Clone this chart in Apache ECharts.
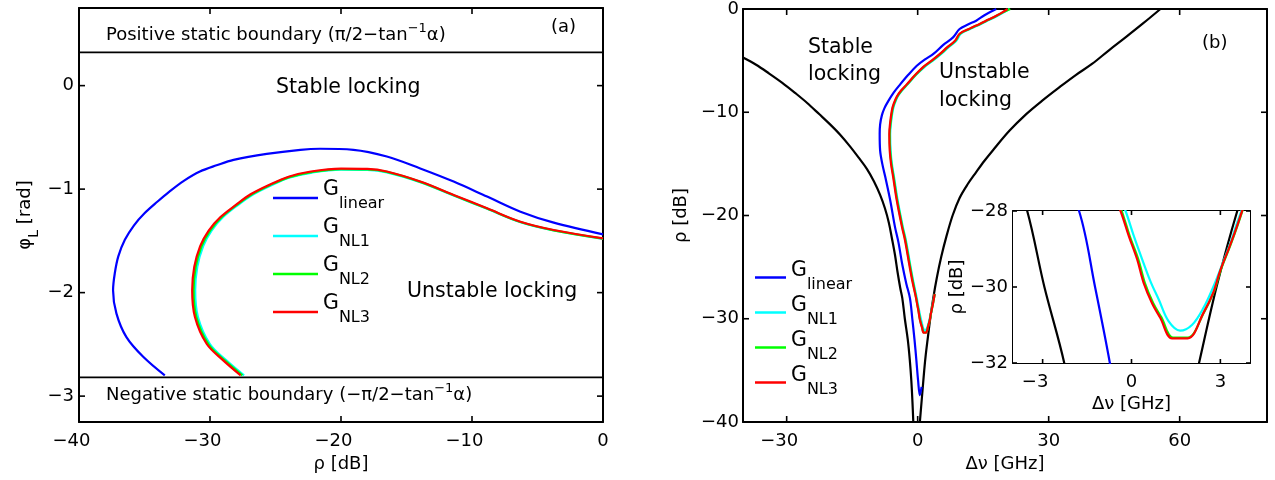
<!DOCTYPE html>
<html>
<head>
<meta charset="utf-8">
<script src="https://cdn.jsdelivr.net/npm/echarts@6/dist/echarts.min.js"></script>
<style>
  html, body { margin: 0; padding: 0; background: #fff; }
  #main { width: 1275px; height: 480px; }
</style>
</head>
<body>
<div id="main"></div>
<script>
var FONT = '"DejaVu Sans", sans-serif';

// ---- panel (a): phi_L vs rho, alpha = 3 ----
var posBound = 0.3218;     // pi/2 - atan(3)
var negBound = -2.8198;    // -pi/2 - atan(3)
var rhoEnds = [-40, 0];
var ticksAX = [-40, -30, -20, -10, 0];
var ticksAY = [0, -1, -2, -3];

var aLinear = [[-33.45,-2.80],[-35.1,-2.62],[-36.38,-2.43],[-37.14,-2.203],[-37.4,-1.977],[-37.27,-1.815],
  [-37.0,-1.65],[-36.5,-1.49],[-35.8,-1.35],[-35.0,-1.234],[-34.0,-1.12],[-33.1,-1.024],[-32.0,-0.92],
  [-30.77,-0.83],[-29.5,-0.77],[-28.2,-0.717],[-25.67,-0.659],[-23.1,-0.62],[-21.6,-0.61],[-19.05,-0.62],
  [-16.5,-0.685],[-13.95,-0.80],[-11.4,-0.927],[-8.85,-1.072],[-6.3,-1.218],[-3.76,-1.324],[0,-1.437]];
var aNL1 = [[-27.4,-2.80],[-28.75,-2.655],[-30.02,-2.494],[-30.92,-2.235],[-31.13,-1.977],[-30.97,-1.75],
  [-30.52,-1.55],[-29.88,-1.40],[-29.0,-1.27],[-27.85,-1.152],[-26.75,-1.055],[-25.35,-0.965],[-23.9,-0.888],
  [-22.2,-0.84],[-20.0,-0.812],[-18.0,-0.815],[-16.5,-0.838],[-13.95,-0.933],[-11.4,-1.062],[-8.85,-1.19],
  [-6.3,-1.32],[-3.76,-1.40],[0,-1.48]];
var aNL2 = [[-27.53,-2.80],[-28.87,-2.655],[-30.14,-2.494],[-31.04,-2.235],[-31.25,-1.977],[-31.09,-1.75],
  [-30.64,-1.55],[-29.99,-1.40],[-29.1,-1.27],[-27.93,-1.15],[-26.83,-1.052],[-25.43,-0.962],[-23.95,-0.884],
  [-22.25,-0.835],[-20.0,-0.806],[-18.0,-0.81],[-16.5,-0.834],[-13.95,-0.93],[-11.4,-1.059],[-8.85,-1.188],
  [-6.3,-1.318],[-3.76,-1.398],[0,-1.478]];
var aNL3 = [[-27.66,-2.80],[-28.99,-2.655],[-30.26,-2.494],[-31.15,-2.235],[-31.36,-1.977],[-31.2,-1.75],
  [-30.75,-1.55],[-30.1,-1.40],[-29.2,-1.27],[-28.0,-1.15],[-26.9,-1.05],[-25.5,-0.96],[-24.0,-0.88],
  [-22.3,-0.83],[-20.0,-0.802],[-18.0,-0.805],[-16.5,-0.83],[-13.95,-0.927],[-11.4,-1.056],[-8.85,-1.185],
  [-6.3,-1.315],[-3.76,-1.395],[0,-1.476]];

// ---- panel (b): rho vs detuning ----
var ticksBX = [-30, 0, 30, 60];
var ticksBY = [0, -10, -20, -30, -40];
var ticksIX = [-3, 0, 3];
var ticksIY = [-28, -30, -32];

var bLeftEdge = [[-40,-4.7],[-37,-5.4],[-34,-6.25],[-31,-7.15],[-28,-8.15],[-25.3,-9.1],[-22.5,-10.2],
  [-20,-11.2],[-17.7,-12.2],[-15.5,-13.3],[-13.5,-14.4],[-11.6,-15.5],[-10,-16.7],[-8.6,-18.0],[-7.5,-19.3],
  [-6.6,-20.7],[-5.9,-22.2],[-5.2,-23.8],[-4.6,-25.5],[-4.0,-27.0],[-3.52,-28],[-2.94,-30],[-2.27,-32],
  [-1.8,-34],[-1.45,-36],[-1.2,-38],[-1.0,-40]];
var bRightEdge = [[0.5,-40],[0.8,-38.5],[1.1,-37],[1.5,-35],[1.85,-33.5],[2.28,-32],[2.87,-30],[3.57,-28],
  [4.4,-26],[5.4,-24],[6.6,-22],[8.0,-20],[9.6,-18.3],[11.4,-17.0],[13.4,-15.8],[15.3,-14.7],[17.2,-13.7],
  [21.0,-11.8],[24.8,-10.2],[28.6,-8.85],[32.4,-7.6],[36.2,-6.4],[40.0,-5.3],[43.8,-4.0],[47.6,-2.75],
  [51.6,-1.4],[55.6,0]];
var bLinear = [[18.0,0],[17.2,-0.16],[15.3,-0.6],[13.4,-1.13],[11.5,-1.5],[9.6,-1.94],[8.1,-2.75],[5.8,-3.5],
  [3.6,-4.35],[1.6,-4.9],[-0.2,-5.5],[-2.2,-6.4],[-4.0,-7.3],[-5.5,-8.1],[-6.7,-8.9],[-7.6,-9.6],[-8.2,-10.3],
  [-8.6,-11.2],[-8.7,-12.1],[-8.6,-13.7],[-8.1,-15.0],[-7.4,-16.3],[-6.3,-18.5],[-5.2,-21.1],[-4.4,-22.6],
  [-3.5,-24.8],[-2.6,-26.6],[-1.77,-28],[-1.23,-30],[-0.73,-32],[-0.3,-34],[0.1,-36],[0.5,-37.4],[0.9,-36.6]];
var bNL1 = [[21.0,0],[19.6,-0.35],[18.3,-0.65],[16.4,-1.05],[14.5,-1.45],[12.2,-1.9],[9.9,-2.4],[8.8,-3.1],
  [7.1,-3.7],[5.4,-4.35],[3.5,-5.0],[1.6,-5.6],[-0.4,-6.4],[-2.3,-7.3],[-3.6,-7.9],[-4.6,-8.5],[-5.3,-9.2],
  [-5.7,-9.8],[-6.1,-11.0],[-6.3,-12.1],[-6.2,-13.7],[-5.9,-15.0],[-5.4,-16.3],[-4.6,-18.5],[-3.4,-21.1],
  [-2.7,-22.4],[-1.7,-24.8],[-1.0,-26.4],[-0.2,-28],[0.08,-28.66],[0.36,-29.27],[0.64,-29.85],[0.92,-30.33],
  [1.25,-30.9],[1.64,-31.15],[2.04,-31.0],[2.43,-30.55],[2.76,-30.0],[3.04,-29.45],[3.38,-28.75],[3.57,-28.3],[3.9,-27.6]];
var bNL2 = [[21.2,0],[19.4,-0.35],[18.1,-0.65],[16.2,-1.05],[14.3,-1.45],[12.0,-1.9],[9.7,-2.4],[8.6,-3.1],
  [6.9,-3.7],[5.2,-4.35],[3.3,-5.0],[1.4,-5.6],[-0.5,-6.4],[-2.4,-7.3],[-3.7,-7.9],[-4.7,-8.5],[-5.4,-9.2],
  [-5.8,-9.8],[-6.2,-11.0],[-6.4,-12.1],[-6.3,-13.7],[-6.0,-15.0],[-5.5,-16.3],[-4.7,-18.5],[-3.5,-21.1],
  [-2.8,-22.4],[-1.8,-24.8],[-1.1,-26.4],[-0.33,-28],[-0.06,-28.66],[0.23,-29.27],[0.45,-29.89],[0.73,-30.42],
  [1.01,-30.8],[1.4,-31.33],[1.9,-31.33],[2.45,-30.66],[2.78,-30.13],[3.01,-29.56],[3.34,-28.9],[3.62,-28.29],[3.9,-27.6]];
var bNL3 = [[20.6,0],[19.3,-0.35],[18.0,-0.65],[16.1,-1.05],[14.2,-1.45],[11.9,-1.9],[9.6,-2.4],[8.5,-3.1],
  [6.8,-3.7],[5.1,-4.35],[3.2,-5.0],[1.3,-5.6],[-0.6,-6.4],[-2.5,-7.3],[-3.8,-7.9],[-4.8,-8.5],[-5.5,-9.2],
  [-5.9,-9.8],[-6.3,-11.0],[-6.5,-12.1],[-6.4,-13.7],[-6.1,-15.0],[-5.6,-16.3],[-4.8,-18.5],[-3.6,-21.1],
  [-2.9,-22.4],[-1.9,-24.8],[-1.2,-26.4],[-0.37,-28],[-0.09,-28.66],[0.19,-29.27],[0.41,-29.89],[0.69,-30.42],
  [0.97,-30.81],[1.37,-31.35],[1.9,-31.35],[2.43,-30.68],[2.76,-30.15],[2.99,-29.58],[3.32,-28.92],[3.6,-28.31],[3.9,-27.6]];

var legendNames = ['linear', 'NL1', 'NL2', 'NL3'];
var colors = { linear: '#0000ff', NL1: '#00ffff', NL2: '#00ff00', NL3: '#ff0000' };

function fmt(v) { return v < 0 ? '\u2212' + Math.abs(v) : String(v); }
// negative x labels centred on their digits, like the original
function fmtX(v) { return v < 0 ? '\u2212' + Math.abs(v) + '{sp| }' : String(v); }

function frameLine() { return { show: true, onZero: false, lineStyle: { color: '#000', width: 2 } }; }

function xAxes(grid, min, max, tv, name, nameGap) {
  return [{
    type: 'value', gridIndex: grid, position: 'bottom', min: min, max: max,
    axisLine: frameLine(), splitLine: { show: false }, axisTick: { show: false },
    axisLabel: { customValues: tv, formatter: fmtX, margin: 10, color: '#000', fontFamily: FONT, fontSize: 18,
      rich: { sp: { width: 15, fontSize: 18, fontFamily: FONT } } },
    name: name, nameLocation: 'middle', nameGap: nameGap,
    nameTextStyle: { color: '#000', fontFamily: FONT, fontSize: 18 }
  }, {
    type: 'value', gridIndex: grid, position: 'top', min: min, max: max,
    axisLine: frameLine(), splitLine: { show: false }, axisTick: { show: false },
    axisLabel: { show: false }
  }];
}

function yAxes(grid, min, max, tv, name, nameGap, margin, nameStyle) {
  return [{
    type: 'value', gridIndex: grid, position: 'left', min: min, max: max,
    axisLine: frameLine(), splitLine: { show: false }, axisTick: { show: false },
    axisLabel: { customValues: tv, formatter: fmt, margin: margin, color: '#000', fontFamily: FONT, fontSize: 18 },
    name: name, nameLocation: 'middle', nameGap: nameGap, nameRotate: 90,
    nameTextStyle: nameStyle || { color: '#000', fontFamily: FONT, fontSize: 18 }
  }, {
    type: 'value', gridIndex: grid, position: 'right', min: min, max: max,
    axisLine: frameLine(), splitLine: { show: false }, axisTick: { show: false },
    axisLabel: { show: false }
  }];
}

function line(name, data, color, xi, yi, w) {
  return {
    name: name, type: 'line', data: data, xAxisIndex: xi, yAxisIndex: yi,
    symbol: 'none', smooth: 0.35, color: color, animation: false,
    lineStyle: { width: w || 2.2, color: color }
  };
}

// inward tick marks on all four sides, placed through the axes' own scales
function tickMarks(xi, yi, xt, yt, xmin, ymin, len) {
  var data = xt.map(function (v) { return [v, 0]; }).concat(yt.map(function (v) { return [v, 1]; }));
  return {
    type: 'custom', xAxisIndex: xi, yAxisIndex: yi, z: 6, silent: true, animation: false, data: data,
    renderItem: function (params, api) {
      var cs = params.coordSys, v = api.value(0), st = { stroke: '#000', lineWidth: 1.6 };
      if (api.value(1) === 0) {
        var x = api.coord([v, ymin])[0], b = cs.y + cs.height;
        return { type: 'group', children: [
          { type: 'line', shape: { x1: x, y1: b, x2: x, y2: b - len }, style: st },
          { type: 'line', shape: { x1: x, y1: cs.y, x2: x, y2: cs.y + len }, style: st }
        ] };
      }
      var y = api.coord([xmin, v])[1], r = cs.x + cs.width;
      return { type: 'group', children: [
        { type: 'line', shape: { x1: cs.x, y1: y, x2: cs.x + len, y2: y }, style: st },
        { type: 'line', shape: { x1: r, y1: y, x2: r - len, y2: y }, style: st }
      ] };
    }
  };
}

var series = [
  line('posBound', [[rhoEnds[0], posBound], [rhoEnds[1], posBound]], '#000', 0, 0, 1.8),
  line('negBound', [[rhoEnds[0], negBound], [rhoEnds[1], negBound]], '#000', 0, 0, 1.8),
  line('linear', aLinear, colors.linear, 0, 0),
  line('NL1', aNL1, colors.NL1, 0, 0),
  line('NL2', aNL2, colors.NL2, 0, 0),
  line('NL3', aNL3, colors.NL3, 0, 0),
  tickMarks(0, 0, ticksAX, ticksAY, -40, -3.25, 6)
];
function panelB(xi, yi) {
  series.push(line('leftEdge', bLeftEdge, '#000', xi, yi));
  series.push(line('rightEdge', bRightEdge, '#000', xi, yi));
  series.push(line('linear', bLinear, colors.linear, xi, yi));
  series.push(line('NL1', bNL1, colors.NL1, xi, yi));
  series.push(line('NL2', bNL2, colors.NL2, xi, yi));
  series.push(line('NL3', bNL3, colors.NL3, xi, yi));
}
panelB(2, 2);
series.push(tickMarks(2, 2, ticksBX, ticksBY, -40, -40, 6));
panelB(4, 4);
series.push(tickMarks(4, 4, ticksIX, ticksIY, -4, -32, 4));

function legendFmt(n) { return '{g|G}{s|' + n + '}'; }
function legendAt(left, top, width, pb, pt) {
  return {
    data: legendNames, orient: 'vertical', left: left, top: top, padding: 0,
    itemWidth: width, itemHeight: 2.5, itemGap: 0, icon: 'rect', selectedMode: false,
    formatter: legendFmt,
    textStyle: { color: '#000', fontFamily: FONT, rich: {
      g: { fontSize: 20.5, lineHeight: 24, fontFamily: FONT, color: '#000', padding: [0, 0, pb, 0] },
      s: { fontSize: 16, lineHeight: 18, fontFamily: FONT, color: '#000', padding: [pt, 0, 0, 0] }
    } }
  };
}

var t18 = { fontSize: 18, lineHeight: 20, fontFamily: FONT, fill: '#000', color: '#000' };
var sup = { fontSize: 13, lineHeight: 14, fontFamily: FONT, fill: '#000', color: '#000', padding: [0, 0, 12, 0] };
function label(x, y, text, size, lh) {
  return { type: 'text', x: x, y: y, z: 100,
    style: { text: text, fill: '#000', font: size + 'px ' + FONT, verticalAlign: 'middle', lineHeight: lh } };
}

var option = {
  backgroundColor: '#fff',
  animation: false,
  grid: [
    { left: 79, top: 8, width: 524, height: 414 },
    { left: 743, top: 8, width: 524, height: 414 },
    { left: 1013, top: 211, width: 237, height: 152 }
  ],
  xAxis: [].concat(
    xAxes(0, -40, 0, ticksAX, '\u03c1 [dB]', 25),
    xAxes(1, -40, 80, ticksBX, '\u0394\u03bd [GHz]', 33),
    xAxes(2, -4, 4, ticksIX, '\u0394\u03bd [GHz]', 32)
  ),
  yAxis: [].concat(
    yAxes(0, -3.25, 0.75, ticksAY, '{a|\u03c6}{s|L}{a| [rad]}', 44, 5, {
      color: '#000', fontFamily: FONT, fontSize: 18, rich: {
        a: { fontSize: 18, lineHeight: 20, fontFamily: FONT, color: '#000' },
        s: { fontSize: 14, lineHeight: 16, fontFamily: FONT, color: '#000', padding: [18, 0, 0, 0] }
      } }),
    yAxes(1, -40, 0, ticksBY, '\u03c1 [dB]', 53, 4),
    yAxes(2, -32, -28, ticksIY, '\u03c1 [dB]', 47, 5)
  ),
  legend: [legendAt(273, 179, 45, 17, 11), legendAt(755, 260, 31, 14, 14)],
  series: series,
  graphic: [
    // white backing for the inset, drawn under its curves
    { type: 'rect', left: 1013, top: 211, z: 1,
      shape: { width: 237, height: 152 }, style: { fill: '#fff' } },
    { type: 'text', x: 106, y: 35, z: 100, style: { text: '{t|Positive static boundary (\u03c0/2\u2212tan}{p|\u22121}{t|\u03b1)}',
      rich: { t: t18, p: sup }, verticalAlign: 'middle' } },
    { type: 'text', x: 106, y: 395, z: 100, style: { text: '{t|Negative static boundary (\u2212\u03c0/2\u2212tan}{p|\u22121}{t|\u03b1)}',
      rich: { t: t18, p: sup }, verticalAlign: 'middle' } },
    label(551, 27, '(a)', 18),
    label(276, 88, 'Stable locking', 20.5),
    label(407, 292, 'Unstable locking', 20.5),
    label(1202, 43, '(b)', 18),
    label(808, 61, 'Stable\nlocking', 20.5, 27),
    label(939, 87, 'Unstable\nlocking', 20.5, 28)
  ]
};

var chart = echarts.init(document.getElementById('main'));
chart.setOption(option);
</script>
</body>
</html>
